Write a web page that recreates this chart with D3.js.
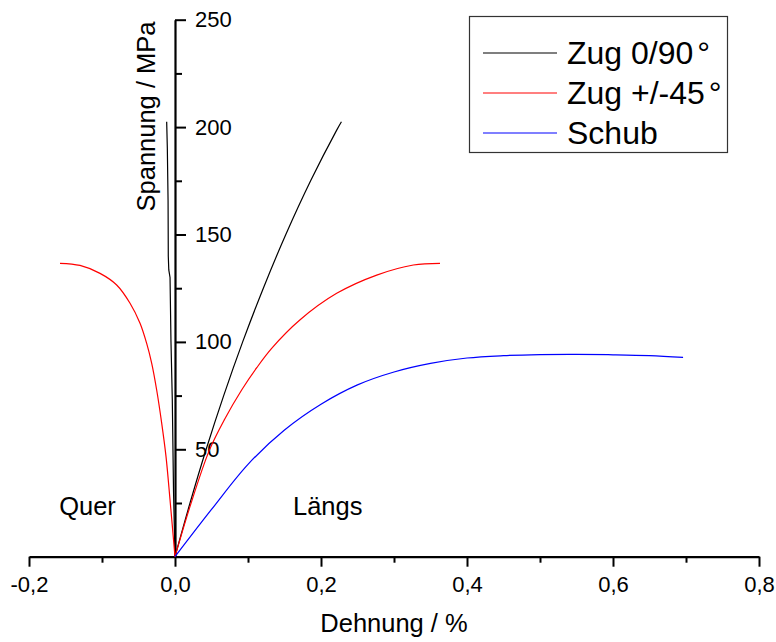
<!DOCTYPE html>
<html><head><meta charset="utf-8">
<script src="https://cdn.jsdelivr.net/npm/d3@7"></script>
<style>body{margin:0;background:#fff}svg{display:block}text{font-family:"Liberation Sans",Arial,Helvetica,sans-serif;fill:#000}</style>
</head><body><svg id="c" width="776" height="642"></svg>
<script>
// Data: strain (%) and stress (MPa)
const seriesNames = ["Zug 0/90", "Zug +/-45", "Schub"];
const seriesColors = ["#000000", "#ff0000", "#0000ff"];

const zug090LaengsStrain = [0, 0.0206, 0.0427, 0.0667, 0.0927, 0.1210, 0.1518, 0.1858, 0.2215, 0.2280];
const zug090LaengsStress = [0, 25, 50, 75, 100, 125, 150, 175, 198.6, 202.5];
const zug090QuerStrain = [0, -0.0020, -0.0037, -0.0055, -0.0068, -0.0085, -0.0092, -0.0095, -0.0105, -0.0114];
const zug090QuerStress = [0, 30, 73, 100, 130, 133.5, 140, 166, 190, 202.5];

const zug45LaengsStrain = [0, 0.0205, 0.0470, 0.0680, 0.0913, 0.1120, 0.1324, 0.1710, 0.2215, 0.2763, 0.3265, 0.3630];
const zug45LaengsStress = [0, 23.3, 49.5, 64.0, 77.6, 88.0, 97.0, 110.2, 122.6, 131.1, 135.8, 136.6];
const zug45QuerStrain = [0, -0.0068, -0.0123, -0.0182, -0.0251, -0.0319, -0.0388, -0.0479, -0.0616, -0.0799, -0.1027, -0.1301, -0.1575];
const zug45QuerStress = [0, 26.4, 46.6, 62.1, 77.6, 90.0, 99.3, 108.7, 118.0, 126.5, 131.9, 135.6, 136.6];

const schubStrain = [0, 0.05, 0.10, 0.15, 0.20, 0.25, 0.30, 0.35, 0.40, 0.45, 0.50, 0.55, 0.60, 0.65, 0.696];
const schubStress = [0, 22, 43, 59, 71, 80, 86, 90, 92.5, 93.6, 94.1, 94.2, 94.0, 93.6, 92.8];

const xMajorTicks = [-0.2, 0, 0.2, 0.4, 0.6, 0.8];
const xMinorTicks = [-0.1, 0.1, 0.3, 0.5, 0.7];
const yMajorTicks = [50, 100, 150, 200, 250];
const yMinorTicks = [25, 75, 125, 175, 225];

const svg = d3.select("#c");
const x = d3.scaleLinear().domain([-0.2, 0.8]).range([29, 759]);
const y = d3.scaleLinear().domain([0, 250]).range([556.7, 19.7]);

const fmt = d => d3.format(".1f")(d).replace(".", ",").replace("−", "-");

// minor ticks
const gxMinor = svg.append("g").attr("transform", `translate(0,${y(0)})`)
  .call(d3.axisBottom(x).tickValues(xMinorTicks).tickSize(6).tickFormat(""));
const gyMinor = svg.append("g").attr("transform", `translate(${x(0)},0)`)
  .call(d3.axisRight(y).tickValues(yMinorTicks).tickSize(7).tickFormat(""));
[gxMinor, gyMinor].forEach(g => { g.select(".domain").remove(); g.selectAll("line").attr("stroke", "#000").attr("stroke-width", 2); });

// major x axis
const gx = svg.append("g").attr("transform", `translate(0,${y(0)})`)
  .call(d3.axisBottom(x).tickValues(xMajorTicks).tickSize(10).tickSizeOuter(0).tickPadding(10).tickFormat(fmt));
gx.select(".domain").attr("stroke", "#000").attr("stroke-width", 2.2);
gx.selectAll("line").attr("stroke", "#000").attr("stroke-width", 2);
gx.selectAll("text").attr("font-size", 22).style("font-family", '"Liberation Sans",Arial,sans-serif').attr("fill", "#000");

// major y axis
const gy = svg.append("g").attr("transform", `translate(${x(0)},0)`)
  .call(d3.axisRight(y).tickValues(yMajorTicks).tickSize(11).tickSizeOuter(0).tickPadding(9).tickFormat(d3.format("d")));
gy.select(".domain").attr("stroke", "#000").attr("stroke-width", 2.2);
gy.selectAll("line").attr("stroke", "#000").attr("stroke-width", 2);
gy.selectAll("text").attr("font-size", 22).style("font-family", '"Liberation Sans",Arial,sans-serif').attr("fill", "#000");

// curves
const mk = (xs, ys) => xs.map((v, i) => [v, ys[i]]);
const smooth = d3.line().x(d => x(d[0])).y(d => y(d[1])).curve(d3.curveCatmullRom.alpha(0.5));
const linear = d3.line().x(d => x(d[0])).y(d => y(d[1]));
const curves = [
  { pts: mk(zug090QuerStrain, zug090QuerStress), c: 0, gen: linear },
  { pts: mk(zug090LaengsStrain, zug090LaengsStress), c: 0, gen: smooth },
  { pts: mk(zug45QuerStrain, zug45QuerStress), c: 1, gen: smooth },
  { pts: mk(zug45LaengsStrain, zug45LaengsStress), c: 1, gen: smooth },
  { pts: mk(schubStrain, schubStress), c: 2, gen: smooth }
];
svg.append("g").selectAll("path").data(curves).join("path")
  .attr("d", d => d.gen(d.pts)).attr("fill", "none")
  .attr("stroke", d => seriesColors[d.c]).attr("stroke-width", 1.2);

// axis titles
svg.append("text").attr("x", 394).attr("y", 631.5).attr("text-anchor", "middle")
  .attr("font-size", 25.5).text("Dehnung / %");
svg.append("text").attr("transform", "translate(155,116.5) rotate(-90)").attr("text-anchor", "middle")
  .attr("font-size", 25.5).text("Spannung / MPa");

// annotations
svg.append("text").attr("x", 87.5).attr("y", 515).attr("text-anchor", "middle").attr("font-size", 25.5).text("Quer");
svg.append("text").attr("x", 293).attr("y", 515).attr("font-size", 25.5).text("Längs");

// legend
const lg = svg.append("g");
lg.append("rect").attr("x", 469.5).attr("y", 16.5).attr("width", 258).attr("height", 136)
  .attr("fill", "#fff").attr("stroke", "#333").attr("stroke-width", 1.2);
const legendLabels = ["Zug 0/90", "Zug +/-45", "Schub"];
const legendDeg = [true, true, false];
legendLabels.forEach((lab, i) => {
  const yy = 53 + i * 40;
  lg.append("line").attr("x1", 483).attr("x2", 557).attr("y1", yy).attr("y2", yy)
    .attr("stroke", seriesColors[i]).attr("stroke-width", 1.2);
  const t = lg.append("text").attr("x", 567).attr("y", yy + 10.5).attr("font-size", 32).text(lab);
  if (legendDeg[i]) t.append("tspan").attr("dx", 4).text("°");
});
</script></body></html>
